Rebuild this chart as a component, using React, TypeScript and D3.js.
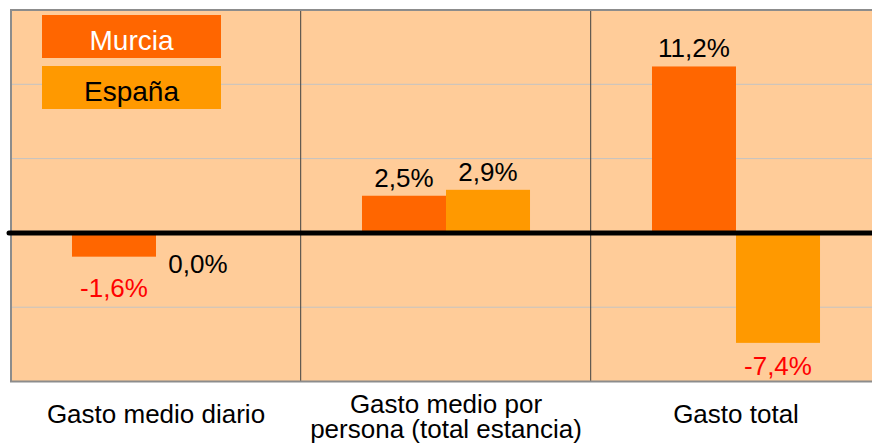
import React, { useRef, useEffect } from 'react';
import * as d3 from 'd3';

// Variación del gasto, Murcia vs España (%)
const categories = ['Gasto medio diario', 'Gasto medio por persona (total estancia)', 'Gasto total'];
const categoryLines = [['Gasto medio diario'], ['Gasto medio por', 'persona (total estancia)'], ['Gasto total']];
const seriesNames = ['Murcia', 'España'];
const murcia = [-1.6, 2.5, 11.2];
const espana = [0.0, 2.9, -7.4];
const yTicks = [-10, -5, 0, 5, 10, 15];

const colors: Record<string, string> = { 'Murcia': '#FF6600', 'España': '#FF9900' };
const FONT = 'Liberation Sans, Arial, sans-serif';

// 1.6 -> "1,6%", hyphen instead of the unicode minus
const fmt = (v: number) => d3.format('.1f')(v).replace('.', ',').replace('\u2212', '-') + '%';

const App = () => {
    const svgRef = useRef<SVGSVGElement>(null);
    const width = 872;
    const height = 445;
    const margin = { top: 10, left: 11, bottom: 381.5 };

    useEffect(() => {
        const svg = d3.select(svgRef.current);
        svg.selectAll('*').remove();

        const catWidth = 290;
        const x = d3.scaleBand<string>()
            .domain(categories)
            .range([margin.left, margin.left + catWidth * categories.length])
            .padding(0);
        const xs = d3.scaleBand<string>()
            .domain(seriesNames)
            .range([0, x.bandwidth()])
            .paddingInner(0)
            .paddingOuter(0.726);
        const y = d3.scaleLinear()
            .domain([d3.min(yTicks)!, d3.max(yTicks)!])
            .range([margin.bottom, margin.top]);

        const plotRight = margin.left + catWidth * categories.length;

        // background
        svg.append('rect')
            .attr('x', margin.left)
            .attr('y', margin.top)
            .attr('width', plotRight - margin.left)
            .attr('height', margin.bottom - margin.top)
            .attr('fill', '#FFCC99');

        // gridlines
        svg.append('g')
            .selectAll('line')
            .data(yTicks.filter(t => t !== 0 && t !== d3.min(yTicks) && t !== d3.max(yTicks)))
            .enter()
            .append('line')
                .attr('x1', margin.left)
                .attr('x2', plotRight)
                .attr('y1', d => y(d))
                .attr('y2', d => y(d))
                .attr('stroke', '#c4c4c4')
                .attr('stroke-width', 1);

        // category separators
        svg.append('g')
            .selectAll('line')
            .data(categories.slice(1))
            .enter()
            .append('line')
                .attr('x1', d => x(d)! - 0.3)
                .attr('x2', d => x(d)! - 0.3)
                .attr('y1', margin.top)
                .attr('y2', margin.bottom)
                .attr('stroke', '#404040')
                .attr('stroke-width', 1);

        // plot border (left, top, bottom)
        svg.append('path')
            .attr('d', `M${plotRight},${margin.top}H${margin.left}V${margin.bottom}H${plotRight}`)
            .attr('fill', 'none')
            .attr('stroke', '#8c8c8c')
            .attr('stroke-width', 2);

        const rows = categories.map((c, i) => ({ cat: c, values: [murcia[i], espana[i]] }));

        // bars
        const groups = svg.append('g')
            .selectAll('g')
            .data(rows)
            .enter()
            .append('g')
                .attr('transform', d => `translate(${x(d.cat)},0)`);

        groups.selectAll('rect')
            .data(d => d.values.map((v, j) => ({ name: seriesNames[j], value: v })))
            .enter()
            .append('rect')
                .attr('x', d => xs(d.name)!)
                .attr('y', d => y(Math.max(0, d.value)))
                .attr('width', xs.bandwidth())
                .attr('height', d => Math.abs(y(d.value) - y(0)))
                .attr('fill', d => colors[d.name]);

        groups.selectAll('text')
            .data(d => d.values.map((v, j) => ({ name: seriesNames[j], value: v })))
            .enter()
            .append('text')
                .attr('x', d => xs(d.name)! + xs.bandwidth() / 2)
                .attr('y', d => d.value > 0 ? y(d.value) - 9 : Math.min(y(d.value) + 40, margin.bottom - 7))
                .attr('text-anchor', 'middle')
                .attr('font-family', FONT)
                .attr('font-size', 26)
                .attr('fill', d => d.value < 0 ? '#FF0000' : '#000000')
                .text(d => fmt(d.value));

        // zero line
        svg.append('line')
            .attr('x1', margin.left - 2)
            .attr('x2', width + 10)
            .attr('y1', y(0))
            .attr('y2', y(0))
            .attr('stroke', '#000')
            .attr('stroke-width', 5)
            .attr('stroke-linecap', 'round');

        // category labels
        const cl = svg.append('g')
            .selectAll('text')
            .data(categories)
            .enter()
            .append('text')
                .attr('text-anchor', 'middle')
                .attr('font-family', FONT)
                .attr('font-size', 26)
                .attr('fill', '#000')
                .attr('transform', (d, i) => `translate(${x(d)! + x.bandwidth() / 2},${categoryLines[i].length > 1 ? 412.5 : 423})`);
        cl.selectAll('tspan')
            .data((d, i) => categoryLines[i])
            .enter()
            .append('tspan')
                .attr('x', 0)
                .attr('y', (d, k) => k * 25)
                .text(d => d);

        // legend
        const legend = svg.append('g')
            .selectAll('g')
            .data(seriesNames)
            .enter()
            .append('g')
                .attr('transform', (d, i) => `translate(42,${15 + i * 51})`);
        legend.append('rect')
            .attr('width', 179)
            .attr('height', 43)
            .attr('fill', d => colors[d]);
        legend.append('text')
            .attr('x', 89.5)
            .attr('y', 34.5)
            .attr('text-anchor', 'middle')
            .attr('font-family', FONT)
            .attr('font-size', 28)
            .attr('fill', (d, i) => i === 0 ? '#FFFFFF' : '#000000')
            .text(d => d);
    // eslint-disable-next-line
    }, []);

    return (
        <svg ref={svgRef} width={width} height={height}
            style={{ position: 'absolute', left: 0, top: 0, display: 'block', background: '#fff' }} />
    );
};

export default App;
